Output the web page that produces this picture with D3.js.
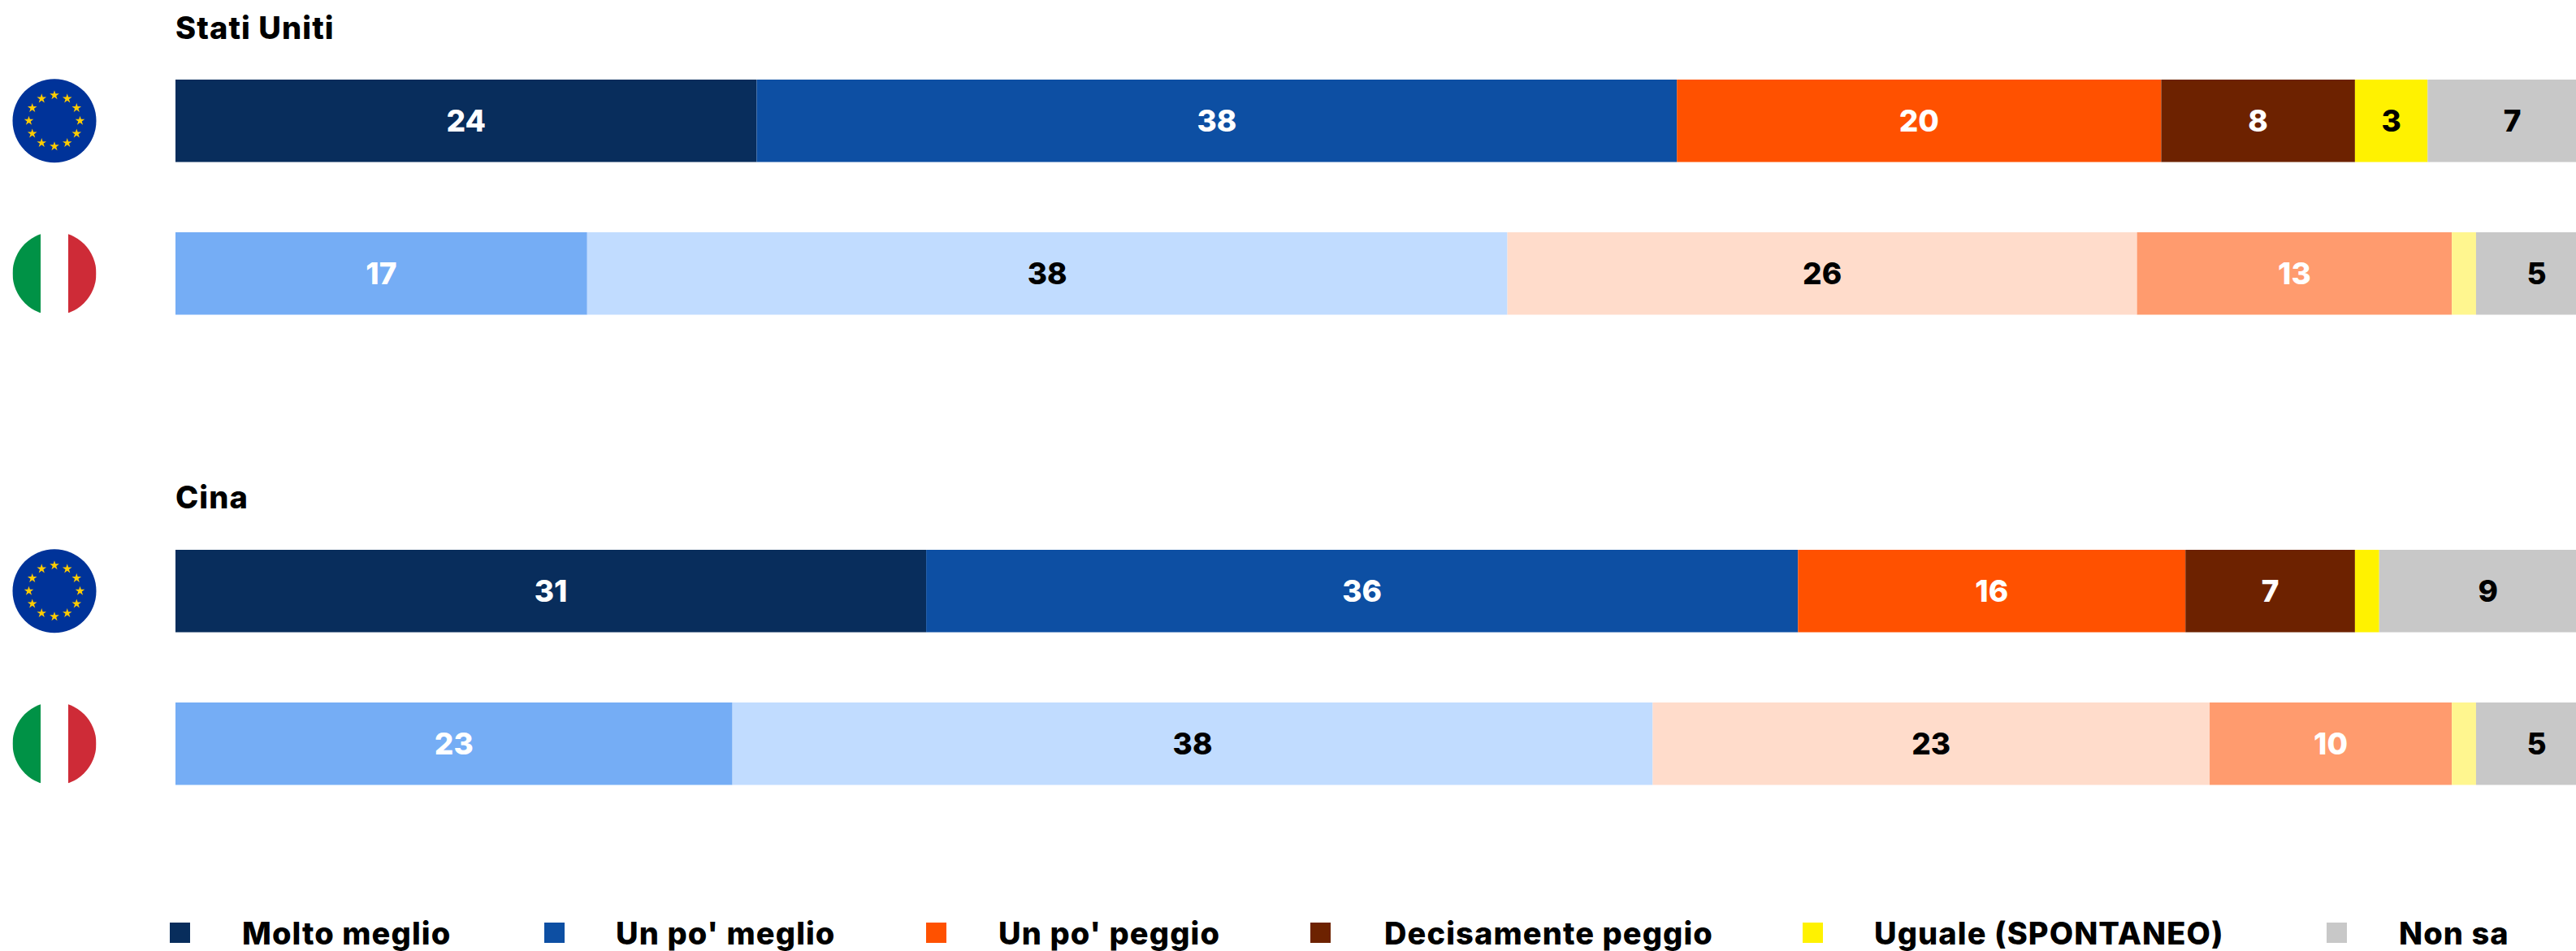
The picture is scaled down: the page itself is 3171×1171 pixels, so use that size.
<!DOCTYPE html>
<html><head><meta charset="utf-8">
<script src="https://cdnjs.cloudflare.com/ajax/libs/d3/7.8.5/d3.min.js"></script>
<style>html,body{margin:0;padding:0;background:#fff;overflow:hidden}svg{display:block}text{font-family:Inter,sans-serif;font-weight:800}</style>
</head><body><div id="chart"></div>
<script>
const categories = ["Molto meglio","Un po' meglio","Un po' peggio","Decisamente peggio","Uguale (SPONTANEO)","Non sa"];
const groups = ["Stati Uniti","Cina"];
const rowKeys = ["USA-UE","USA-IT","CN-UE","CN-IT"];
const rowFlags = ["eu","it","eu","it"];
const usaEu = [24,38,20,8,3,7];
const usaIt = [17,38,26,13,1,5];
const cnEu = [31,36,16,7,1,9];
const cnIt = [23,38,23,10,1,5];
const rowValues = [usaEu,usaIt,cnEu,cnIt];
const hiddenBelow = 2;
const euColors = ["#082d5c","#0d4fa3","#ff5100","#6d2200","#fff200","#c8c8c8"];
const itColors = ["#75adf5","#c1dcff","#ffdccb","#ff9b6e","#fff68f","#c8c8c8"];
const euLabelColors = ["#fff","#fff","#fff","#fff","#000","#000"];
const itLabelColors = ["#fff","#000","#000","#fff","#000","#000"];

const W=3171,H=1171;
const svg=d3.select("#chart").append("svg").attr("width",W).attr("height",H).attr("viewBox",[0,0,W,H]);
const x=d3.scaleLinear().domain([0,100]).range([216,3197]);
const rowY=d3.scaleOrdinal().domain(rowKeys).range([98,286,677,865]);
const barH=101.5;
const groupY=d3.scaleOrdinal().domain(groups).range([48,626]);
const FS=37, FS2=38, LS=1.1;

svg.selectAll("text.group").data(groups).join("text").attr("class","group")
  .attr("x",216).attr("y",d=>groupY(d)).attr("font-size",FS2).attr("letter-spacing",LS).attr("fill","#000").text(d=>d);

rowKeys.forEach((key,i)=>{
  const vals=rowValues[i], cum=d3.cumsum(vals), isEu=rowFlags[i]==="eu";
  const colors=isEu?euColors:itColors, lab=isEu?euLabelColors:itLabelColors;
  const g=svg.append("g").attr("class","row");
  const segs=vals.map((v,j)=>({v,j,x0:cum[j]-v,x1:cum[j]}));
  g.selectAll("rect").data(segs).join("rect")
    .attr("x",d=>x(d.x0)).attr("width",d=>x(d.x1)-x(d.x0))
    .attr("y",rowY(key)).attr("height",barH).attr("fill",d=>colors[d.j]);
  g.selectAll("text").data(segs.filter(d=>d.v>=hiddenBelow)).join("text")
    .attr("x",d=>x((d.x0+d.x1)/2)).attr("y",rowY(key)+barH/2)
    .attr("dy","0.36em").attr("text-anchor","middle").attr("font-size",FS)
    .attr("fill",d=>lab[d.j]).text(d=>d.v);
  // flag
  const cx=67, cy=rowY(key)+barH/2, r=51.5;
  const f=svg.append("g").attr("transform",`translate(${cx},${cy})`);
  if(isEu){
    f.append("circle").attr("r",r).attr("fill","#003399");
    const star=d3.symbol().type(d3.symbolStar).size(42);
    f.selectAll("path").data(d3.range(12)).join("path").attr("d",star())
      .attr("fill","#ffcc00")
      .attr("transform",d=>`translate(${31.5*Math.sin(d*Math.PI/6)},${-31.5*Math.cos(d*Math.PI/6)})`);
  } else {
    const id="clip"+i;
    f.append("clipPath").attr("id",id).append("circle").attr("r",r);
    const s=f.append("g").attr("clip-path",`url(#${id})`);
    s.append("rect").attr("x",-r).attr("y",-r).attr("width",r-17).attr("height",2*r).attr("fill","#009246");
    s.append("rect").attr("x",17).attr("y",-r).attr("width",r-17).attr("height",2*r).attr("fill","#ce2b37");
  }
});

const legendSwatchX=d3.scaleOrdinal().domain(categories).range([209,670,1140,1613,2219,2864]);
const legendTextX=d3.scaleOrdinal().domain(categories).range([298,758,1229,1704,2307,2953]);
const leg=svg.append("g").selectAll("g").data(categories).join("g");
leg.append("rect").attr("x",d=>legendSwatchX(d)).attr("y",1136).attr("width",25).attr("height",25)
  .attr("fill",(d,i)=>euColors[i]);
leg.append("text").attr("x",d=>legendTextX(d)).attr("y",1163).attr("font-size",FS2).attr("letter-spacing",LS).attr("fill","#000").text(d=>d);
</script></body></html>
